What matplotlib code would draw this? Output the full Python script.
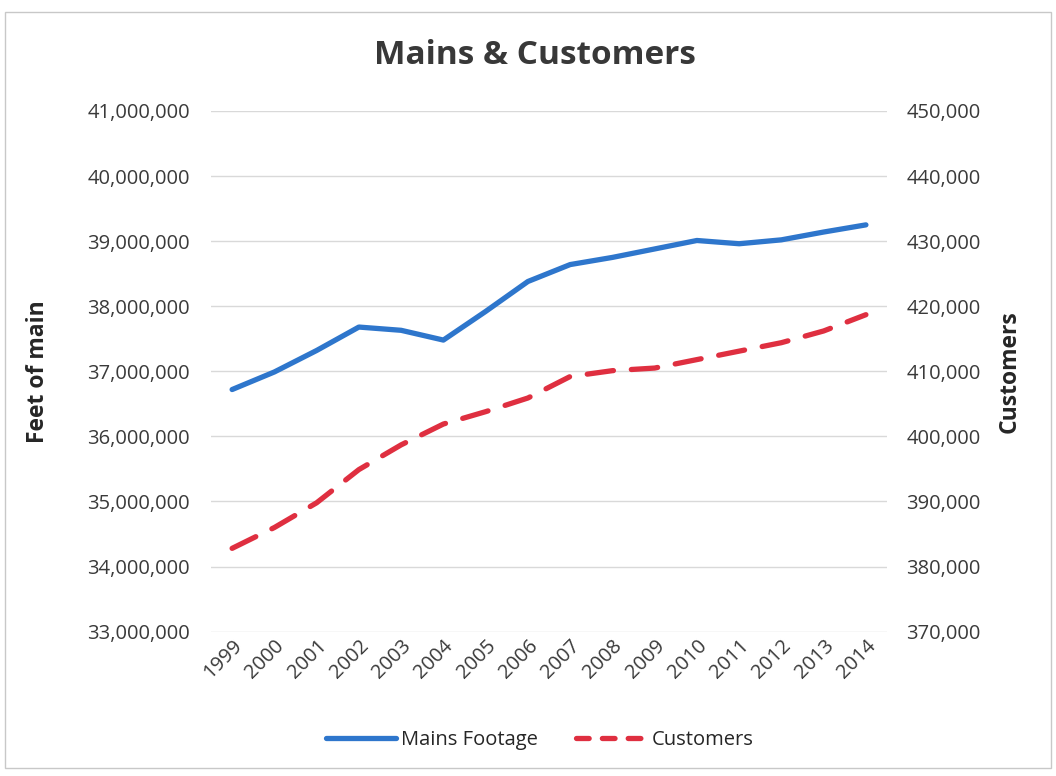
import matplotlib
matplotlib.use("Agg")
import matplotlib.pyplot as plt
from matplotlib.ticker import FuncFormatter, MultipleLocator
from matplotlib.patches import Rectangle
from matplotlib.lines import Line2D

years = ["1999", "2000", "2001", "2002", "2003", "2004", "2005", "2006",
         "2007", "2008", "2009", "2010", "2011", "2012", "2013", "2014"]
mains_footage = [36720000, 36990000, 37320000, 37680000, 37630000, 37480000,
                 37920000, 38380000, 38640000, 38750000, 38880000, 39010000,
                 38960000, 39020000, 39140000, 39250000]
customers = [382800, 386000, 389800, 394900, 398700, 401900, 403800, 405900,
             409200, 410100, 410500, 411800, 413100, 414400, 416200, 418700]

plt.rcParams['font.family'] = ['Open Sans', 'DejaVu Sans']

fig = plt.figure(figsize=(10.56, 7.76), dpi=100)
ax = fig.add_axes([0.1998, 0.186, 0.6402, 0.671])
ax2 = ax.twinx()

x = list(range(len(years)))
blue = '#2E76CC'
red = '#DF2F40'
lw = 3.8
ax.plot(x, mains_footage, color=blue, lw=lw, solid_capstyle='round',
        solid_joinstyle='round', zorder=3)
ax2.plot(x, customers, color=red, lw=lw, dashes=(5.0, 3.4),
         dash_capstyle='round', zorder=3)

ax.set_xlim(-0.5, len(years) - 0.5)
ax.set_ylim(33000000, 41000000)
ax2.set_ylim(370000, 450000)
ax.yaxis.set_major_locator(MultipleLocator(1000000))
ax2.yaxis.set_major_locator(MultipleLocator(10000))
fmt = FuncFormatter(lambda v, p: f"{int(round(v)):,}")
ax.yaxis.set_major_formatter(fmt)
ax2.yaxis.set_major_formatter(fmt)

ax.set_xticks(x)
ax.set_xticklabels(years, rotation=45, ha='right', rotation_mode='anchor')

for a in (ax, ax2):
    for s in a.spines.values():
        s.set_visible(False)
    a.tick_params(length=0, labelsize=14.5, colors='#3A3A3A')
ax.tick_params(axis='y', pad=15)
ax2.tick_params(axis='y', pad=14)
ax.tick_params(axis='x', pad=3)
ax.grid(axis='y', color='#D9D9D9', lw=1.0)
ax.set_axisbelow(True)

ax.set_ylabel('Feet of main', fontsize=16.5, fontweight='bold', color='#262626', labelpad=27)
ax2.set_ylabel('Customers', fontsize=16.5, fontweight='bold', color='#262626', labelpad=12)

fig.text(0.507, 0.928, 'Mains & Customers', ha='center', va='center',
         fontsize=24, fontweight='bold', color='#383838')

h1 = Line2D([], [], color=blue, lw=lw, solid_capstyle='round')
h2 = Line2D([], [], color=red, lw=lw, dashes=(2.4, 2.5), dash_capstyle='round')
fig.legend(handles=[h1, h2], labels=['Mains Footage', 'Customers'], loc='center',
           bbox_to_anchor=(0.511, 0.046), ncol=2, frameon=False, fontsize=14.5,
           handlelength=3.5, columnspacing=1.9, handletextpad=0.25,
           labelcolor='#262626')

fig.patches.append(Rectangle((0.005, 0.01), 0.99, 0.975, transform=fig.transFigure,
                             fill=False, edgecolor='#C8C8C8', lw=1.0))

fig.savefig('out.png', dpi=100)
